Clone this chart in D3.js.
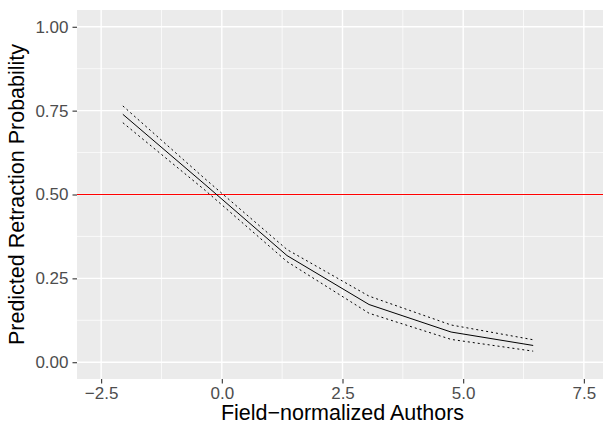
<!DOCTYPE html>
<html>
<head>
<meta charset="utf-8">
<script src="https://cdn.jsdelivr.net/npm/d3@7"></script>
<style>
  body { margin: 0; background: #fff; }
  text { font-family: "Liberation Sans", Arial, Helvetica, sans-serif; }
</style>
</head>
<body>
<div id="chart"></div>
<script>
// predicted values
var authors = [-2.05, -0.35, 1.35, 3.05, 4.75, 6.45];
var fit   = [0.739, 0.530, 0.318, 0.172, 0.090, 0.050];
var upper = [0.764, 0.547, 0.336, 0.197, 0.111, 0.067];
var lower = [0.714, 0.513, 0.300, 0.146, 0.068, 0.033];

var xTicks = [-2.5, 0, 2.5, 5, 7.5];
var xMinor = [-1.25, 1.25, 3.75, 6.25];
var yTicks = [0, 0.25, 0.5, 0.75, 1];
var yMinor = [0.125, 0.375, 0.625, 0.875];
var threshold = 0.5;

var width = 603, height = 425;
var margin = {top: 10, right: -5, bottom: 46, left: 77};
var innerW = width - margin.left - margin.right,
    innerH = height - margin.top - margin.bottom;

var svg = d3.select("#chart").append("svg")
  .attr("width", width)
  .attr("height", height);

var x = d3.scaleLinear().domain([-3, 8]).range([0, innerW]);
var y = d3.scaleLinear().domain([-0.05, 1.05]).range([innerH, 0]);

var g = svg.append("g")
  .attr("transform", "translate(" + margin.left + "," + margin.top + ")");

// panel
g.append("rect")
  .attr("width", innerW)
  .attr("height", innerH)
  .style("fill", "#EBEBEB");

// minor grid
g.selectAll(".xminor").data(xMinor).enter().append("line")
  .attr("x1", function(d){ return x(d); }).attr("x2", function(d){ return x(d); })
  .attr("y1", 0).attr("y2", innerH)
  .style("stroke", "#fff").style("stroke-width", 0.7);
g.selectAll(".yminor").data(yMinor).enter().append("line")
  .attr("y1", function(d){ return y(d); }).attr("y2", function(d){ return y(d); })
  .attr("x1", 0).attr("x2", innerW)
  .style("stroke", "#fff").style("stroke-width", 0.7);

// major grid
g.selectAll(".xmajor").data(xTicks).enter().append("line")
  .attr("x1", function(d){ return x(d); }).attr("x2", function(d){ return x(d); })
  .attr("y1", 0).attr("y2", innerH)
  .style("stroke", "#fff").style("stroke-width", 1.4);
g.selectAll(".ymajor").data(yTicks).enter().append("line")
  .attr("y1", function(d){ return y(d); }).attr("y2", function(d){ return y(d); })
  .attr("x1", 0).attr("x2", innerW)
  .style("stroke", "#fff").style("stroke-width", 1.4);

// threshold
g.append("line")
  .attr("x1", 0).attr("x2", innerW)
  .attr("y1", y(threshold)).attr("y2", y(threshold))
  .style("stroke", "#FF0000").style("stroke-width", 1);

var line = function(vals) {
  return d3.line()
    .x(function(d, i){ return x(authors[i]); })
    .y(function(d){ return y(d); })(vals);
};

g.append("path").attr("d", line(upper))
  .style("fill", "none").style("stroke", "#000")
  .style("stroke-width", 1).style("stroke-dasharray", "2,3");
g.append("path").attr("d", line(lower))
  .style("fill", "none").style("stroke", "#000")
  .style("stroke-width", 1).style("stroke-dasharray", "2,3");
g.append("path").attr("d", line(fit))
  .style("fill", "none").style("stroke", "#000")
  .style("stroke-width", 1);

// axes
var fmtX = function(d){ return d3.format(".1f")(d).replace("-", "\u2212"); };
var xAxis = g.append("g")
  .attr("transform", "translate(0," + innerH + ")")
  .call(d3.axisBottom(x).tickValues(xTicks).tickFormat(fmtX).tickSize(4.5).tickPadding(3));
var yAxis = g.append("g")
  .call(d3.axisLeft(y).tickValues(yTicks).tickFormat(d3.format(".2f")).tickSize(4.5).tickPadding(4));

[xAxis, yAxis].forEach(function(a){
  a.select(".domain").remove();
  a.selectAll(".tick line").style("stroke", "#333333").style("stroke-width", 1.1);
  a.selectAll(".tick text")
    .style("fill", "#4D4D4D")
    .style("font-size", "17px")
    .style("font-family", "'Liberation Sans', Arial, sans-serif");
});

// titles
svg.append("text")
  .attr("x", margin.left + innerW / 2)
  .attr("y", 420)
  .attr("text-anchor", "middle")
  .style("font-size", "21.5px")
  .style("fill", "#000")
  .text("Field\u2212normalized Authors");

svg.append("text")
  .attr("transform", "translate(24," + (margin.top + innerH / 2) + ") rotate(-90)")
  .attr("text-anchor", "middle")
  .style("font-size", "21.5px")
  .style("fill", "#000")
  .text("Predicted Retraction Probability");
</script>
</body>
</html>
